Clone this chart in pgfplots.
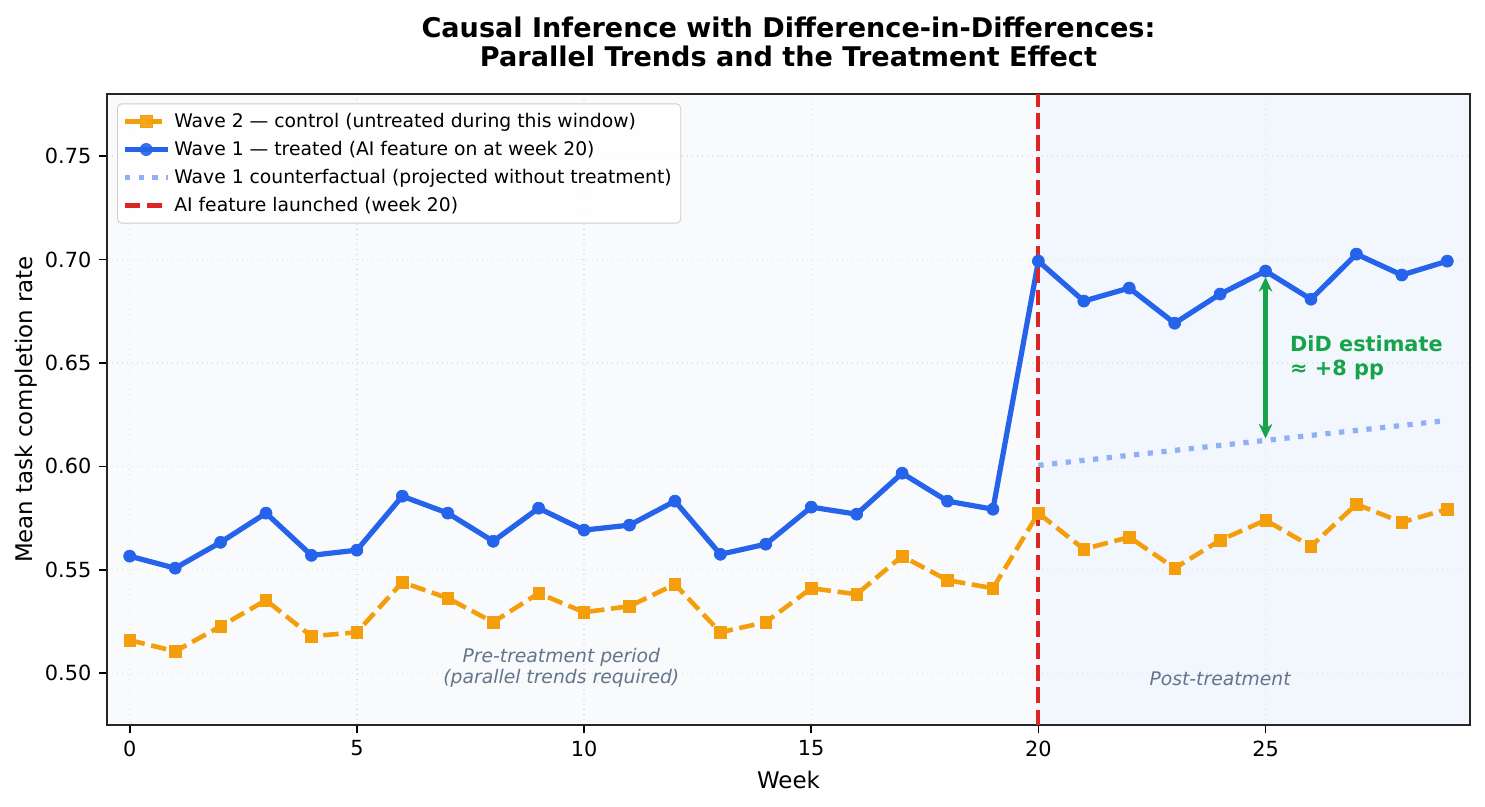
\documentclass[border=0pt]{standalone}
\usepackage{pgfplots}
\pgfplotsset{compat=1.18}
\usepackage{fontspec}
\setmainfont{DejaVu Sans}
\usetikzlibrary{arrows.meta}
\definecolor{cOrange}{HTML}{F59E0B}
\definecolor{cBlue}{HTML}{2563EB}
\definecolor{cLight}{HTML}{8FB0F5}
\definecolor{cRed}{HTML}{DC2626}
\definecolor{cGreen}{HTML}{16A34A}
\definecolor{cGray}{HTML}{64748B}
\definecolor{cPre}{HTML}{F8FAFC}
\definecolor{cPost}{HTML}{F2F6FD}
\definecolor{cGrid}{HTML}{DDE1E6}
\begin{document}
\begin{tikzpicture}
\begin{axis}[
  set layers,
  scale only axis,
  width=654.24pt, height=302.88pt,
  xmin=-0.5, xmax=29.5, ymin=0.475, ymax=0.78,
  xtick={0,5,10,15,20,25},
  ytick={0.50,0.55,0.60,0.65,0.70,0.75},
  yticklabel style={/pgf/number format/fixed, /pgf/number format/fixed zerofill, /pgf/number format/precision=2},
  /pgf/number format/assume math mode=true,
  ticklabel style={font=\fontsize{10}{12}\selectfont},
  tick align=outside, tick style={black, line width=0.8pt},
  major tick length=4pt,
  axis line style={line width=0.8pt, black!85},
  xtick pos=bottom, ytick pos=left,
  grid=major,
  major grid style={cGrid, dotted, line width=0.6pt},
  axis background/.style={fill=cPre},
  xlabel={Week}, ylabel={Mean task completion rate},
  label style={font=\fontsize{11}{13}\selectfont},
  xlabel style={yshift=0pt},
  ylabel style={yshift=-3pt},
  title={Causal Inference with Difference-in-Differences:\\Parallel Trends and the Treatment Effect},
  title style={font=\bfseries\fontsize{13}{14}\selectfont, align=center, yshift=3.5pt},
  legend cell align=left,
  legend style={at={(0.0074,0.985)}, anchor=north west, font=\fontsize{9}{11}\selectfont,
    draw=black!20, rounded corners=2pt, fill=white, fill opacity=0.9, text opacity=1,
    row sep=1.1pt, inner sep=2.3pt},
  legend image code/.code={\draw[mark repeat=2,mark phase=2,#1] plot coordinates {(0cm,0cm)(0.36cm,0cm)(0.72cm,0cm)};},
]
\addplot[fill=cPost, draw=none, forget plot, on layer=axis background]
coordinates {(20,0.475)(20,0.78)(29.5,0.78)(29.5,0.475)} -- cycle;

\addplot[cOrange, line width=2.2pt, dash pattern=on 7.4pt off 3.2pt, mark=square*, mark size=2.75pt, mark options={solid, line width=0.3pt}]
coordinates {
(0,0.516)(1,0.5106)(2,0.5227)(3,0.5353)(4,0.5179)(5,0.5198)(6,0.544)(7,0.5363)(8,0.5247)(9,0.5387)
(10,0.5295)(11,0.5324)(12,0.543)(13,0.5198)(14,0.5247)(15,0.5411)(16,0.5382)(17,0.5566)(18,0.545)(19,0.5411)
(20,0.5774)(21,0.56)(22,0.5658)(23,0.5508)(24,0.5643)(25,0.574)(26,0.5614)(27,0.5817)(28,0.573)(29,0.5793)
};
\addlegendentry{Wave 2 — control (untreated during this window)}

\addplot[cBlue, line width=2.5pt, mark=*, mark size=2.9pt, mark options={line width=0.3pt}]
coordinates {
(0,0.5566)(1,0.5508)(2,0.5633)(3,0.5774)(4,0.557)(5,0.5595)(6,0.5856)(7,0.5774)(8,0.5638)(9,0.5798)
(10,0.5692)(11,0.5716)(12,0.5832)(13,0.5575)(14,0.5624)(15,0.5803)(16,0.5769)(17,0.5967)(18,0.5832)(19,0.5793)
(20,0.6992)(21,0.6799)(22,0.6862)(23,0.6692)(24,0.6833)(25,0.6944)(26,0.6808)(27,0.7026)(28,0.6925)(29,0.6992)
};
\addlegendentry{Wave 1 — treated (AI feature on at week 20)}

\addplot[cLight, line width=2.5pt, dash pattern=on 2.5pt off 4.1pt]
coordinates {(20,0.6005)(29,0.6222)};
\addlegendentry{Wave 1 counterfactual (projected without treatment)}

\addplot[cRed, line width=2pt, dash pattern=on 7.4pt off 3.2pt]
coordinates {(20,0.475)(20,0.78)};
\addlegendentry{AI feature launched (week 20)}

\addplot[cGreen, line width=2pt, {Stealth[length=7pt,width=6.5pt]}-{Stealth[length=7pt,width=6.5pt]}, forget plot]
coordinates {(25,0.6135)(25,0.6915)};

\node[anchor=west, text=cGreen, font=\bfseries\fontsize{10}{11.5}\selectfont, align=left] at (axis cs:25.38,0.6525) {DiD estimate\\≈ +8 pp};
\node[text=cGray, font=\itshape\fontsize{9}{10.2}\selectfont, align=center] at (axis cs:9.5,0.5025) {Pre-treatment period\\(parallel trends required)};
\node[text=cGray, font=\itshape\fontsize{9}{10.2}\selectfont] at (axis cs:24.0,0.4975) {Post-treatment};
\end{axis}
\pgfresetboundingbox
\useasboundingbox (-51.36pt,-39.36pt) rectangle (661.44pt,348pt);
\end{tikzpicture}
\end{document}
